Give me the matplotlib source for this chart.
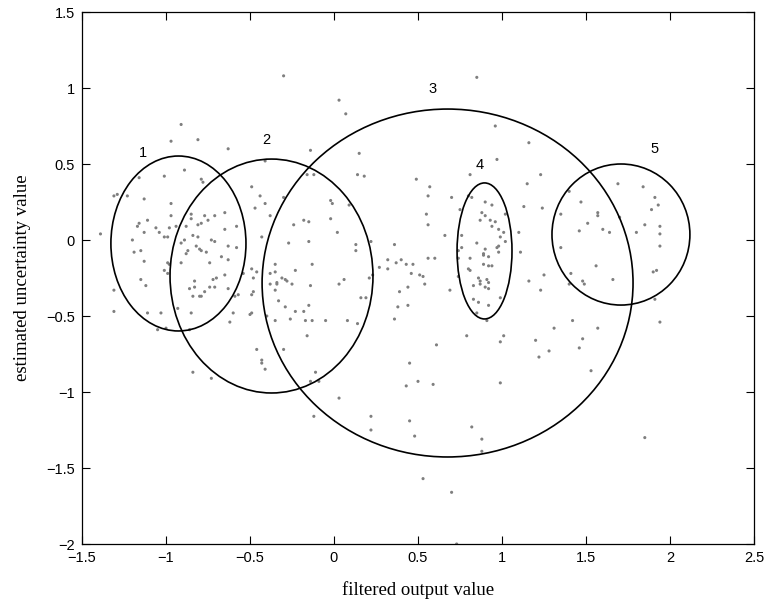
import matplotlib
matplotlib.use("Agg")
import matplotlib.pyplot as plt
from matplotlib.patches import Ellipse

# --- scattered samples (filtered output, estimated uncertainty) ---
pts_left = [
    (-0.30, 1.08), (-0.91, 0.76), (-0.97, 0.65), (-0.81, 0.66), (-0.63, 0.60),
    (-0.41, 0.52), (-0.89, 0.46), (-1.16, 0.41), (-1.01, 0.42), (-0.79, 0.40),
    (-0.78, 0.38), (-1.31, 0.29), (-1.29, 0.30), (-1.23, 0.29), (-1.13, 0.27),
    (-0.49, 0.35), (-0.44, 0.29), (-0.30, 0.28), (-0.16, 0.43), (-0.47, 0.21),
    (-0.41, 0.24), (-0.97, 0.24), (-0.85, 0.17), (-0.85, 0.14), (-0.97, 0.16),
    (-0.77, 0.16), (-0.71, 0.16), (-0.65, 0.18), (-0.38, 0.16), (-1.11, 0.13),
    (-1.16, 0.11), (-1.17, 0.09), (-1.13, 0.05), (-1.06, 0.08), (-1.04, 0.05),
    (-1.01, 0.02), (-0.99, 0.02), (-0.98, 0.08), (-0.94, 0.09), (-0.88, 0.09),
    (-0.81, 0.10), (-0.79, 0.11), (-0.75, 0.13), (-0.84, 0.03), (-0.81, 0.02),
    (-0.65, 0.07), (-0.58, 0.09), (-1.39, 0.04), (-1.20, 0.00), (-0.89, 0.00),
    (-0.91, -0.02), (-0.73, 0.00), (-0.71, -0.01), (-0.43, 0.02), (-0.24, 0.10),
    (-0.18, 0.13), (-0.27, -0.02), (-1.19, -0.08), (-1.15, -0.07), (-0.88, -0.09),
    (-0.87, -0.07), (-0.82, -0.04), (-0.80, -0.06), (-0.79, -0.07), (-0.76, -0.08),
    (-0.63, -0.04), (-0.58, -0.05),
    (-0.67, -0.11), (-0.63, -0.13), (-1.13, -0.14), (-0.99, -0.15), (-0.98, -0.16),
    (-0.91, -0.15), (-0.74, -0.15), (-1.01, -0.20), (-0.99, -0.22), (-1.15, -0.26),
    (-1.12, -0.30), (-1.31, -0.33), (-1.31, -0.47), (-0.83, -0.27), (-0.83, -0.31),
    (-0.86, -0.32), (-0.77, -0.34), (-0.74, -0.31), (-0.71, -0.31), (-0.72, -0.26),
    (-0.70, -0.25), (-0.65, -0.23), (-0.63, -0.32), (-0.84, -0.37), (-0.80, -0.37),
    (-0.79, -0.37), (-0.59, -0.37), (-0.57, -0.36), (-0.54, -0.22), (-0.49, -0.19),
    (-0.46, -0.21), (-0.48, -0.25), (-0.48, -0.34), (-0.49, -0.36), (-1.11, -0.48),
    (-1.03, -0.48), (-0.93, -0.45), (-0.85, -0.48), (-1.05, -0.59), (-1.00, -0.58),
    (-0.86, -0.59), (-0.60, -0.48), (-0.62, -0.54), (-0.50, -0.49), (-0.49, -0.48),
    (-0.40, -0.50), (-0.46, -0.72), (-0.43, -0.79), (-0.43, -0.81), (-0.41, -0.85),
    (-0.84, -0.87), (-0.73, -0.91), (-0.38, -0.22), (-0.35, -0.21), (-0.35, -0.16),
    (-0.23, -0.20), (-0.38, -0.29), (-0.34, -0.28), (-0.34, -0.29), (-0.31, -0.25),
    (-0.29, -0.26), (-0.28, -0.27), (-0.25, -0.29), (-0.35, -0.33), (-0.33, -0.40),
    (-0.29, -0.44), (-0.35, -0.53), (-0.26, -0.52), (-0.23, -0.47), (-0.18, -0.47),
    (-0.17, -0.53), (-0.30, -0.72), (-0.16, -0.63),
]
pts_mid = [
    (0.85, 1.07), (0.03, 0.92), (0.07, 0.83), (-0.14, 0.59), (0.15, 0.57),
    (-0.12, 0.43), (0.14, 0.43), (0.18, 0.42), (0.96, 0.75), (0.97, 0.53),
    (0.49, 0.40), (0.57, 0.35), (0.56, 0.29), (0.70, 0.28), (0.81, 0.43),
    (0.80, 0.29), (0.82, 0.28), (-0.02, 0.26), (-0.01, 0.24), (0.09, 0.23),
    (-0.15, 0.12), (-0.02, 0.14), (0.02, 0.05), (-0.15, -0.01), (0.55, 0.17),
    (0.56, 0.10), (0.66, 0.03), (0.75, 0.20), (0.90, 0.25), (0.94, 0.23),
    (0.88, 0.18), (0.90, 0.16), (0.87, 0.13), (0.93, 0.13), (0.96, 0.12),
    (0.94, 0.09), (0.98, 0.07), (1.01, 0.05), (1.02, 0.17), (1.13, 0.22),
    (1.10, 0.05), (0.76, 0.03), (0.99, 0.02), (1.02, -0.01), (0.85, -0.02),
    (0.13, -0.03), (0.13, -0.07), (0.22, -0.01), (0.36, -0.03), (0.76, -0.05),
    (0.74, -0.07), (0.90, -0.06), (0.89, -0.09), (0.97, -0.05), (0.98, -0.04),
    (0.98, -0.08), (1.11, -0.08),
    (0.32, -0.13), (0.40, -0.13), (0.37, -0.15), (0.43, -0.16), (0.47, -0.16),
    (0.56, -0.12), (0.60, -0.12), (-0.13, -0.16), (0.27, -0.18), (0.32, -0.19),
    (0.46, -0.22), (0.51, -0.23), (0.53, -0.24), (0.54, -0.29), (0.44, -0.31),
    (0.39, -0.34), (0.23, -0.23), (0.21, -0.25), (0.06, -0.26), (0.03, -0.29),
    (-0.14, -0.30), (0.16, -0.38), (0.19, -0.38), (-0.15, -0.43), (-0.13, -0.53),
    (-0.05, -0.53), (0.08, -0.53), (0.14, -0.55), (0.38, -0.44), (0.44, -0.43),
    (0.36, -0.52), (0.74, -0.12), (0.74, -0.24), (0.81, -0.12), (0.89, -0.10),
    (0.92, -0.11), (0.80, -0.19), (0.81, -0.20), (0.89, -0.16), (0.92, -0.17),
    (0.94, -0.17), (0.69, -0.33), (0.83, -0.30), (0.86, -0.25), (0.87, -0.27),
    (0.87, -0.29), (0.91, -0.26), (0.92, -0.28), (0.90, -0.31), (0.92, -0.32),
    (0.83, -0.39), (0.86, -0.41), (0.92, -0.43), (0.99, -0.38), (0.85, -0.48),
    (0.91, -0.53), (0.79, -0.63), (1.01, -0.63), (0.99, -0.67), (0.61, -0.69),
    (0.45, -0.81), (-0.11, -0.87), (-0.14, -0.93), (-0.09, -0.93), (0.43, -0.96),
    (0.50, -0.93), (0.59, -0.95), (0.99, -0.94), (0.03, -1.04), (-0.12, -1.16),
    (0.22, -1.16), (0.22, -1.25), (0.45, -1.19), (0.48, -1.29), (0.82, -1.23),
    (0.88, -1.31), (0.88, -1.39), (0.53, -1.57), (0.70, -1.66), (0.73, -2.00),
]
pts_right = [
    (1.16, 0.64), (1.23, 0.43), (1.15, 0.37), (1.24, 0.21), (1.40, 0.32),
    (1.47, 0.25), (1.35, 0.17), (1.57, 0.18), (1.57, 0.16), (1.51, 0.11),
    (1.46, 0.06), (1.60, 0.07), (1.64, 0.05), (1.70, 0.15), (1.69, 0.37),
    (1.84, 0.35), (1.91, 0.28), (1.93, 0.23), (1.89, 0.20), (1.85, 0.10),
    (1.80, 0.05), (1.94, 0.09), (1.94, 0.04), (1.94, -0.04), (1.35, -0.05),
    (1.56, -0.17), (1.41, -0.22), (1.48, -0.27), (1.49, -0.29), (1.40, -0.29),
    (1.25, -0.23), (1.16, -0.27), (1.23, -0.33), (1.66, -0.26), (1.90, -0.21),
    (1.92, -0.20), (1.91, -0.39), (1.94, -0.54), (1.42, -0.53), (1.31, -0.58),
    (1.57, -0.58), (1.48, -0.65), (1.20, -0.66), (1.46, -0.71), (1.28, -0.73),
    (1.22, -0.77), (1.53, -0.86), (1.85, -1.30),
]

# --- cluster ellipses: centre x, centre y, width, height, label ---
cluster_ids = ["1", "2", "3", "4", "5"]
centre_x = [-0.926, -0.372, 0.676, 0.896, 1.708]
centre_y = [-0.023, -0.237, -0.283, -0.072, 0.036]
ell_width = [0.804, 1.208, 2.208, 0.327, 0.821]
ell_height = [1.151, 1.539, 2.289, 0.895, 0.928]
label_x = [-1.137, -0.405, 0.589, 0.869, 1.905]
label_y = [0.572, 0.658, 0.993, 0.493, 0.599]


def main() -> None:
    fig = plt.figure(figsize=(7.67, 6.02), dpi=100)
    ax = fig.add_axes([82 / 767, 58 / 602, 672 / 767, 532 / 602])

    pts = pts_left + pts_mid + pts_right
    xs = [p[0] for p in pts]
    ys = [p[1] for p in pts]
    ax.scatter(xs, ys, s=5, color="#7f7f7f", edgecolors="none", zorder=2)

    for cx, cy, w, h in zip(centre_x, centre_y, ell_width, ell_height):
        ax.add_patch(Ellipse((cx, cy), w, h, fill=False, edgecolor="black",
                             linewidth=1.2, zorder=3))
    for lx, ly, t in zip(label_x, label_y, cluster_ids):
        ax.text(lx, ly, t, ha="center", va="center", fontsize=10.5,
                family="Liberation Sans")

    ax.set_xlim(-1.5, 2.5)
    ax.set_ylim(-2, 1.5)
    ax.set_xticks([-1.5, -1, -0.5, 0, 0.5, 1, 1.5, 2, 2.5])
    ax.set_yticks([-2, -1.5, -1, -0.5, 0, 0.5, 1, 1.5])
    ax.set_xticklabels(["\u22121.5", "\u22121", "\u22120.5", "0", "0.5", "1", "1.5", "2", "2.5"])
    ax.set_yticklabels(["\u22122", "\u22121.5", "\u22121", "\u22120.5", "0", "0.5", "1", "1.5"])
    ax.tick_params(direction="in", top=True, right=True, length=6, width=0.8,
                   labelsize=10.5, pad=5)
    for lab in ax.get_xticklabels() + ax.get_yticklabels():
        lab.set_family("Liberation Sans")
    for sp in ax.spines.values():
        sp.set_linewidth(0.9)

    ax.set_xlabel("filtered output value", family="Liberation Serif",
                  fontsize=13.5, labelpad=12)
    ax.set_ylabel("estimated uncertainty value", family="Liberation Serif",
                  fontsize=13.5, labelpad=11)

    fig.savefig("out.png", dpi=100)
    plt.close(fig)


if __name__ == "__main__":
    main()
